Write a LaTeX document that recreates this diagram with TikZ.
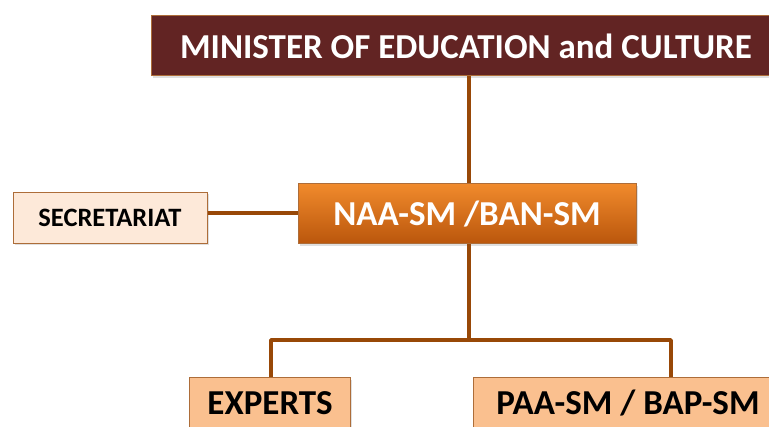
\documentclass[tikz,border=0pt]{standalone}
\usepackage{fontspec}
\setmainfont{Carlito}
\usetikzlibrary{shadows}

\definecolor{maroon}{HTML}{622423}
\definecolor{rust}{HTML}{984807}
\definecolor{peach}{HTML}{FDE9D9}
\definecolor{apricot}{HTML}{FAC08F}
\definecolor{flame}{HTML}{F08A2C}
\definecolor{ember}{HTML}{BA560C}

\tikzset{
    box/.style={draw=rust!80, line width=1pt, inner sep=0pt,
        drop shadow={shadow xshift=1.5pt, shadow yshift=-2pt, opacity=0.25}},
    bigtext/.style={font=\bfseries\fontsize{35}{38}\selectfont},
    link/.style={draw=rust, line width=3.5pt}
}

\begin{document}
\begin{tikzpicture}[x=1pt, y=1pt]
    \useasboundingbox (0, 0) rectangle (769, -427);
    \clip (0, 0) rectangle (769, -427);
    \node[box, bigtext, fill=maroon, text=white, minimum width=630, minimum height=60]
        (minister) at (466, -46) {MINISTER OF EDUCATION and CULTURE};
    \node[box, bigtext, top color=flame, bottom color=ember, text=white,
        minimum width=338, minimum height=60] (naa) at (467, -214) {NAA-SM /BAN-SM};
    \node[box, fill=peach, minimum width=194, minimum height=51,
        font=\bfseries\fontsize{26.5}{29}\selectfont] (secretariat) at (110, -218) {SECRETARIAT};
    \node[box, bigtext, fill=apricot, minimum width=161, minimum height=50]
        (experts) at (270, -403) {EXPERTS};
    \node[box, bigtext, fill=apricot, minimum width=310, minimum height=50]
        (paa) at (628, -403) {PAA-SM / BAP-SM};
    \coordinate (fork) at (469, -340);
    \draw[link] (minister.south -| fork) -- (naa.north -| fork);
    \draw[link] (secretariat.east |- 0, -213) -- (naa.west |- 0, -213);
    \draw[link] (naa.south -| fork) -- (fork);
    \draw[link, line join=round] (271, -412 |- experts.north) -- (271, -340) -- (671, -340) -- (671, -340 |- paa.north);
\end{tikzpicture}
\end{document}
